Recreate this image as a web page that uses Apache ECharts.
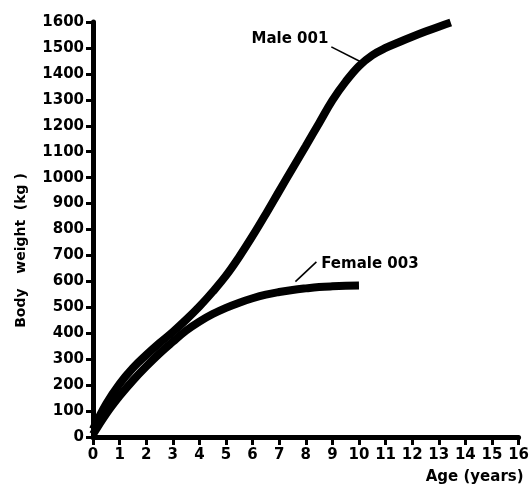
<!DOCTYPE html>
<html>
<head>
<meta charset="utf-8">
<script src="https://cdn.jsdelivr.net/npm/echarts@6/dist/echarts.min.js"></script>
<style>
  html, body { margin: 0; padding: 0; background: #fff; }
  #chart { width: 532px; height: 485px; }
</style>
</head>
<body>
<div id="chart"></div>
<script>
// age in years, weight in kg
const maleAge = [0, 0.5, 1, 1.5, 2, 2.5, 3, 3.5, 4, 4.5, 5, 5.5, 6, 6.5, 7, 7.5, 8, 8.5, 9, 9.5, 10, 10.5, 11, 11.5, 12, 12.5, 13, 13.45];
const maleWeight = [30, 128, 205, 266, 316, 362, 405, 452, 503, 560, 622, 695, 775, 860, 948, 1035, 1122, 1210, 1298, 1370, 1430, 1472, 1500, 1522, 1543, 1563, 1582, 1598];
const femaleAge = [0, 0.5, 1, 1.5, 2, 2.5, 3, 3.5, 4, 4.5, 5, 5.5, 6, 6.5, 7, 7.5, 8, 8.5, 9, 9.5, 10];
const femaleWeight = [10, 90, 158, 218, 272, 322, 367, 410, 445, 474, 498, 518, 535, 549, 559, 567, 573, 578, 581, 583, 584];

const xTicks = { min: 0, max: 16, step: 1 };
const yTicks = { min: 0, max: 1600, step: 100 };

// annotation positions (data units)
const maleLabel = { text: "Male 001", at: [8.85, 1535], leader: [[8.96, 1504], [10.1, 1445]] };
const femaleLabel = { text: "Female 003", at: [8.58, 668], leader: [[8.4, 675], [7.61, 599]] };

const font = "DejaVu Sans";

function pairs(xs, ys) {
  return xs.map((x, i) => [x, ys[i]]);
}

let myChart = echarts.init(document.getElementById("chart"));

function note(lbl, side) {
  return {
    markLine: {
      silent: true,
      symbol: "none",
      lineStyle: { color: "#000", width: 1.6, type: "solid" },
      label: { show: false },
      data: [[{ coord: lbl.leader[0] }, { coord: lbl.leader[1] }]],
    },
    markPoint: {
      silent: true,
      symbol: "circle",
      symbolSize: 0,
      data: [{ coord: lbl.at }],
      label: {
        show: true,
        position: side,
        distance: 0,
        formatter: lbl.text,
        color: "#000",
        fontFamily: font,
        fontWeight: "bold",
        fontSize: 15,
      },
    },
  };
}

myChart.setOption({
  animation: false,
  grid: {
    left: 93,
    right: 10,
    top: 22,
    bottom: 46,
  },
  xAxis: {
    type: "value",
    min: xTicks.min,
    max: xTicks.max,
    interval: xTicks.step,
    name: "Age (years)",
    nameLocation: "end",
    nameGap: 5,
    nameTextStyle: {
      color: "#000",
      fontFamily: font,
      fontWeight: "bold",
      fontSize: 15,
      align: "right",
      verticalAlign: "top",
      padding: [33, 0, 0, 0],
    },
    axisLine: { lineStyle: { color: "#000", width: 5 } },
    axisTick: { show: true, length: 8, lineStyle: { color: "#000", width: 3 } },
    axisLabel: {
      color: "#000",
      fontFamily: font,
      fontWeight: "bold",
      fontSize: 15,
      margin: 11,
      formatter: (v) => String(v),
    },
    splitLine: { show: false },
  },
  yAxis: {
    type: "value",
    min: yTicks.min,
    max: yTicks.max,
    interval: yTicks.step,
    name: "Body   weight  (kg )",
    nameLocation: "middle",
    nameGap: 65,
    nameRotate: 90,
    nameTextStyle: {
      color: "#000",
      fontFamily: font,
      fontWeight: "bold",
      fontSize: 14,
      padding: [0, 42, 0, 0],
    },
    axisLine: { show: true, lineStyle: { color: "#000", width: 5 } },
    axisTick: { show: true, length: 7, lineStyle: { color: "#000", width: 3 } },
    axisLabel: {
      color: "#000",
      fontFamily: font,
      fontWeight: "bold",
      fontSize: 15,
      margin: 9,
      formatter: (v) => String(v),
    },
    splitLine: { show: false },
  },
  series: [
    Object.assign({
      name: "Male 001",
      type: "line",
      data: pairs(maleAge, maleWeight),
      smooth: 0.4,
      showSymbol: false,
      lineStyle: { color: "#000", width: 8 },
    }, note(maleLabel, "left")),
    Object.assign({
      name: "Female 003",
      type: "line",
      data: pairs(femaleAge, femaleWeight),
      smooth: 0.4,
      showSymbol: false,
      lineStyle: { color: "#000", width: 8 },
    }, note(femaleLabel, "right")),
  ],
});

window.addEventListener("resize", () => {
  myChart.resize();
});
</script>
</body>
</html>
